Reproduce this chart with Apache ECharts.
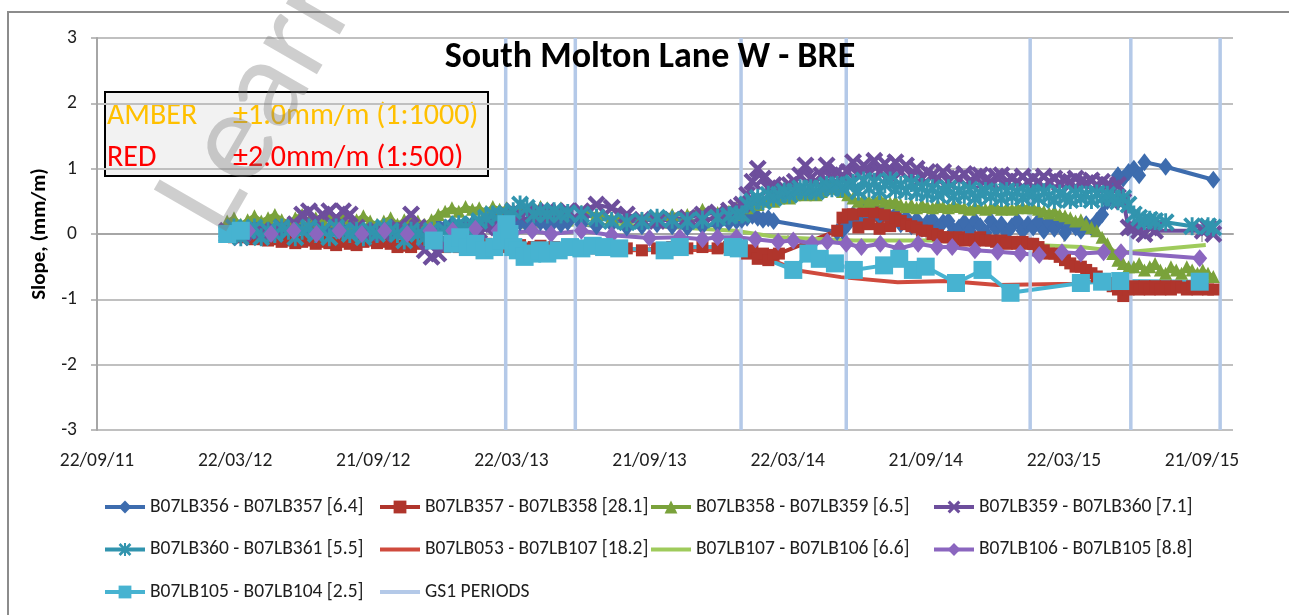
<!DOCTYPE html>
<html>
<head>
<meta charset="utf-8">
<title>South Molton Lane W - BRE</title>
<script src="https://cdn.jsdelivr.net/npm/echarts@6/dist/echarts.min.js"></script>
<style>
  html, body { margin: 0; padding: 0; background: #ffffff; }
  #chart { width: 1289px; height: 615px; }
</style>
</head>
<body>
<div id="chart"></div>
<script>
// x values are days counted from 22/09/11; ticks every half year (182.5 days)
const tickDays = [0, 182.5, 365, 547.5, 730, 912.5, 1095, 1277.5, 1460];
const tickLabels = ['22/09/11', '22/03/12', '21/09/12', '22/03/13', '21/09/13', '22/03/14', '21/09/14', '22/03/15', '21/09/15'];

// common survey days for the densely read gauges
const surveyDays = [
  172,181,190,199,208,217,226,235,244,253,262,271,280,289,298,307,316,325,334,343,352,361,370,379,388,397,406,415,424,433,442,451,460,469,478,487,496,505,514,523,532,
  541,550,559,568,577,586,595,604,613,622,
  640,660,680,700,720,740,760,780,800,820,835,845,
  852,859,866,873,880,887,894,901,908,915,922,929,936,943,950,957,964,971,978,985,992,
  999,1006,1013,1020,1027,1034,1041,1048,1055,1062,1069,1076,1083,1090,1097,1104,1111,1118,1125,1132,1139,1146,1153,1160,1167,1174,1181,1188,1195,1202,1209,1216,1223,1230,
  1237,1244,1251,1258,1265,1272,1279,1286,1293,1300,1307,1314,1321,1328,1335,1342,1349,1356,1363,
  1370,1377,1384,1391,1398,1405,1412,1419,1426,1433,1440,1447,1454,1461,1468,1475
];

const slope356_357 = [
  0.05,0.1,0.0,0.08,0.12,0.05,0.1,0.02,0.08,0.1,0.05,0.12,0.08,0.05,0.1,0.02,0.08,0.05,0.1,0.06,0.02,0.08,0.05,0.1,0.04,0.08,0.02,0.06,0.1,0.05,0.08,0.12,0.1,0.15,0.12,0.1,0.15,0.12,0.18,0.15,0.2,
  0.15,0.2,0.18,0.15,0.2,0.18,0.15,0.2,0.15,0.18,
  0.15,0.12,0.15,0.1,0.12,0.15,0.12,0.1,0.12,0.15,0.18,0.2,
  0.22,0.25,0.28,0.25,0.22,0.24,0.2,null,null,null,null,null,null,null,null,null,null,null,0.03,0.05,0.15,
  0.3,0.2,0.38,0.22,0.4,0.28,0.35,0.22,0.3,0.15,0.25,0.12,0.22,0.08,0.18,0.22,0.08,0.18,0.2,0.05,0.1,0.18,0.05,0.2,0.12,0.02,0.2,0.08,0.15,0.02,0.12,0.2,0.05,0.15,
  0.1,0.2,0.05,0.18,0.08,0.2,0.02,0.15,0.1,0.05,0.15,0.1,0.2,0.3,0.5,0.75,0.9,0.85,0.95,
  1.0,0.9,1.1,null,null,null,1.03,null,null,null,null,null,null,null,null,0.83
];
const slope357_358 = [
  -0.02,-0.05,0.0,-0.05,-0.08,-0.05,-0.1,-0.08,-0.12,-0.1,-0.14,-0.12,-0.1,-0.15,-0.12,-0.14,-0.17,-0.12,-0.15,-0.17,-0.12,-0.1,-0.14,-0.12,-0.15,-0.2,-0.18,-0.2,-0.15,-0.12,-0.1,-0.15,-0.2,-0.18,-0.2,-0.15,-0.18,-0.2,-0.15,-0.18,-0.2,
  -0.18,-0.2,-0.17,-0.22,-0.2,-0.18,-0.22,-0.2,-0.22,-0.2,
  -0.2,-0.22,-0.2,-0.22,-0.25,-0.22,-0.2,-0.22,-0.2,-0.22,-0.2,-0.2,
  -0.2,-0.3,-0.25,-0.38,-0.3,-0.4,-0.32,-0.3,null,null,null,null,null,null,null,null,null,null,0.05,0.25,0.3,
  0.3,0.1,0.35,0.15,0.33,0.08,0.3,0.12,0.25,0.2,0.15,0.12,0.1,0.05,0.05,0.0,-0.02,-0.05,-0.05,-0.08,-0.05,-0.1,-0.08,-0.1,-0.05,-0.1,-0.1,-0.12,-0.1,-0.15,-0.12,-0.15,-0.12,-0.15,
  -0.15,-0.2,-0.25,-0.3,-0.3,-0.35,-0.4,-0.45,-0.5,-0.5,-0.55,-0.6,-0.65,-0.7,-0.75,-0.8,-0.85,-0.95,-0.85,
  -0.8,-0.85,-0.8,-0.85,-0.8,-0.85,-0.8,-0.85,-0.8,-0.82,-0.85,-0.8,-0.85,-0.8,-0.85,-0.85
];
const slope358_359 = [
  0.2,0.25,0.15,0.22,0.28,0.2,0.25,0.3,0.22,0.18,0.25,0.3,0.2,0.25,0.22,0.28,0.2,0.25,0.15,0.22,0.28,0.2,0.15,0.2,0.25,0.15,0.22,0.25,0.2,0.15,0.22,0.3,0.35,0.4,0.35,0.42,0.38,0.4,0.35,0.42,0.38,
  0.4,0.38,0.42,0.4,0.38,0.42,0.4,0.38,0.4,0.35,
  0.35,0.3,0.25,0.22,0.25,0.28,0.3,0.3,0.38,0.33,0.35,0.4,
  0.3,0.4,0.5,0.45,0.5,0.55,0.5,0.55,0.6,0.55,0.6,0.65,0.6,0.65,0.6,0.65,0.7,0.75,0.7,0.65,0.6,
  0.55,0.5,0.55,0.5,0.52,0.55,0.5,0.48,0.5,0.45,0.42,0.45,0.4,0.45,0.42,0.4,0.45,0.42,0.4,0.45,0.42,0.4,0.38,0.42,0.4,0.38,0.4,0.42,0.38,0.4,0.38,0.4,0.42,0.4,
  0.4,0.38,0.35,0.32,0.35,0.3,0.28,0.25,0.2,0.22,0.15,0.1,0.05,-0.05,-0.15,-0.3,-0.4,-0.45,-0.5,
  -0.5,-0.45,-0.55,-0.5,-0.45,-0.55,-0.6,-0.5,-0.55,-0.6,-0.5,-0.55,-0.6,-0.55,-0.6,-0.65
];
const slope359_360 = [
  0.05,0.0,-0.05,0.05,0.0,0.05,0.0,0.05,0.1,0.05,0.15,0.3,0.35,0.2,0.3,0.35,0.25,0.35,0.3,0.1,0.05,0.0,0.05,0.0,0.05,0.1,0.05,0.3,0.1,-0.25,-0.35,-0.3,-0.1,0.0,0.05,0.05,0.1,0.05,0.1,0.15,0.2,
  0.3,0.35,0.3,0.35,0.32,0.3,0.35,0.33,0.3,0.35,
  0.35,0.45,0.4,0.3,0.22,0.2,0.22,0.25,0.3,0.33,0.36,0.4,
  0.45,0.6,0.8,1.0,0.85,0.7,0.75,0.65,0.7,0.75,0.8,0.9,1.05,0.85,0.8,0.9,1.05,0.85,0.95,0.9,0.95,
  1.1,0.9,1.05,0.92,1.12,0.95,1.08,0.9,1.1,0.95,1.05,0.9,1.0,0.85,0.95,0.9,0.85,0.95,0.8,0.9,0.85,0.92,0.8,0.88,0.9,0.82,0.8,0.88,0.9,0.8,0.85,0.8,0.88,0.8,
  0.85,0.8,0.88,0.8,0.85,0.78,0.82,0.8,0.85,0.8,0.78,0.82,0.75,0.8,0.75,0.7,0.75,0.5,0.1,
  0.1,0.05,0.0,0.1,0.05,null,null,null,null,null,null,null,null,0.05,0.1,0.0
];
const slope360_361 = [
  0.0,0.1,-0.05,0.05,0.1,-0.05,0.05,0.0,0.1,0.05,-0.05,0.05,0.1,0.0,0.05,-0.05,0.1,0.05,0.0,0.05,-0.05,0.05,0.0,0.1,0.05,0.0,-0.1,0.05,0.0,-0.05,0.05,0.0,0.05,0.1,0.15,0.1,0.15,0.2,0.25,0.3,0.3,
  0.3,0.35,0.45,0.4,0.3,0.35,0.3,0.35,0.3,0.32,
  0.3,0.25,0.2,0.18,0.2,0.25,0.22,0.2,0.22,0.25,0.28,0.3,
  0.3,0.45,0.5,0.55,0.5,0.6,0.55,0.6,0.65,0.6,0.65,0.7,0.65,0.7,0.65,0.7,0.75,0.7,0.75,0.7,0.75,
  0.78,0.65,0.82,0.7,0.8,0.66,0.76,0.82,0.68,0.75,0.66,0.78,0.64,0.72,0.62,0.7,0.6,0.66,0.7,0.58,0.66,0.6,0.68,0.55,0.62,0.66,0.58,0.64,0.55,0.66,0.58,0.64,0.56,0.62,
  0.62,0.55,0.64,0.58,0.52,0.62,0.56,0.52,0.62,0.55,0.6,0.52,0.62,0.55,0.6,0.55,0.5,0.55,0.45,
  0.3,0.25,0.2,0.22,0.2,null,0.18,null,null,null,null,0.12,null,null,0.12,0.1
];

// gauges read on their own dates
const days053_107 = [172,250,330,420,500,541,620,700,780,843,896,926,983,1058,1124,1190,1291,1340,1370,1480];
const slope053_107 = [-0.02,-0.05,-0.08,-0.12,-0.15,-0.2,-0.25,-0.25,-0.24,-0.25,-0.42,-0.56,-0.66,-0.74,-0.72,-0.78,-0.76,-0.7,-0.75,-0.82];

const days107_106 = [172,300,450,541,640,740,843,900,1000,1100,1200,1300,1360,1465];
const slope107_106 = [0.1,0.1,0.12,0.1,0.15,0.12,0.05,-0.05,-0.1,-0.1,-0.15,-0.2,-0.28,-0.17];

const days106_105 = [172,200,230,260,290,320,350,380,410,440,470,500,530,550,575,600,640,680,730,770,800,820,845,870,900,920,945,965,990,1010,1035,1060,1085,1110,1130,1160,1190,1220,1245,1275,1300,1330,1353,1457];
const slope106_105 = [0.0,0.05,0.0,0.05,0.0,0.05,0.0,0.05,0.0,0.05,0.05,0.08,0.05,0.02,0.05,0.0,0.05,-0.02,-0.06,-0.05,-0.08,-0.05,-0.05,-0.08,-0.12,-0.1,-0.14,-0.12,-0.15,-0.2,-0.15,-0.22,-0.15,-0.2,-0.2,-0.25,-0.27,-0.3,-0.32,-0.28,-0.3,-0.28,-0.28,-0.37];

const days105_104 = [172,190,445,470,480,490,500,512,525,535,541,545,550,556,565,575,585,595,610,625,640,655,670,690,750,770,840,848,920,940,955,975,1000,1040,1060,1078,1095,1135,1170,1207,1300,1328,1352,1457];
const slope105_104 = [0.0,0.05,-0.1,-0.15,-0.05,-0.2,-0.15,-0.25,-0.2,-0.1,0.15,0.0,-0.2,-0.25,-0.35,-0.3,-0.25,-0.3,-0.25,-0.2,-0.22,-0.18,-0.2,-0.22,-0.25,-0.2,-0.2,-0.22,-0.55,-0.3,-0.38,-0.45,-0.55,-0.48,-0.38,-0.55,-0.5,-0.75,-0.55,-0.9,-0.75,-0.73,-0.72,-0.73];

// GS1 survey periods, drawn as full-height vertical lines
const gs1Days = [540, 632, 851, 990, 1233, 1366, 1484];

const seriesNames = [
  'B07LB356 - B07LB357 [6.4]',
  'B07LB357 - B07LB358 [28.1]',
  'B07LB358 - B07LB359 [6.5]',
  'B07LB359 - B07LB360 [7.1]',
  'B07LB360 - B07LB361 [5.5]',
  'B07LB053 - B07LB107 [18.2]',
  'B07LB107 - B07LB106 [6.6]',
  'B07LB106 - B07LB105 [8.8]',
  'B07LB105 - B07LB104 [2.5]',
  'GS1 PERIODS'
];

const FONT = 'Carlito, Calibri, Lato, sans-serif';

// cross and six-armed asterisk markers built from filled bars
const CROSS = 'path://M0,1.7L1.7,0L10,8.3L8.3,10Z M10,1.7L1.7,10L0,8.3L8.3,0Z';
const STAR = 'path://M0,1.5L1.5,0L10,8.5L8.5,10Z M10,1.5L1.5,10L0,8.5L8.5,0Z M4.2,0L5.8,0L5.8,10L4.2,10Z';
// plain line legend icon: a 4px bar centred in a 40x16 box
const LINE_ICON = 'path://M0,0L0.01,0L0.01,0.01L0,0.01Z M0,6L40,6L40,10L0,10Z M39.99,15.99L40,15.99L40,16L39.99,16Z';

function pairs(xs, ys) {
  return xs.map((x, i) => [x, ys[i] === null ? '-' : ys[i]]);
}

function lineSeries(name, data, color, symbol, size, extra) {
  return Object.assign({
    name: name,
    type: 'line',
    data: data,
    symbol: symbol,
    symbolSize: size,
    showSymbol: symbol !== 'none',
    showAllSymbol: true,
    connectNulls: true,
    lineStyle: { width: 4, color: color },
    itemStyle: { color: color, borderWidth: 0 },
    emphasis: { disabled: true },
    animation: false
  }, extra || {});
}

const gs1Data = [];
gs1Days.forEach(d => { gs1Data.push([d, -3], [d, 3], [d, '-']); });

const series = [
  lineSeries(seriesNames[0], pairs(surveyDays, slope356_357), '#3d6cae', 'diamond', [14, 18]),
  lineSeries(seriesNames[1], pairs(surveyDays, slope357_358), '#b0352c', 'rect', 12),
  lineSeries(seriesNames[2], pairs(surveyDays, slope358_359), '#7aa23b', 'triangle', 13),
  lineSeries(seriesNames[3], pairs(surveyDays, slope359_360), '#6d4e9c', CROSS, 18),
  lineSeries(seriesNames[4], pairs(surveyDays, slope360_361), '#3194ae', STAR, 18),
  lineSeries(seriesNames[5], pairs(days053_107, slope053_107), '#cf4a3d', 'none', 0),
  lineSeries(seriesNames[6], pairs(days107_106, slope107_106), '#9fcb5c', 'none', 0),
  lineSeries(seriesNames[7], pairs(days106_105, slope106_105), '#8b66bf', 'diamond', [15, 18]),
  lineSeries(seriesNames[8], pairs(days105_104, slope105_104), '#47b3d1', 'rect', 18),
  lineSeries(seriesNames[9], gs1Data, '#b4c9e8', 'none', 0, { connectNulls: false, lineStyle: { width: 3.5, color: '#b4c9e8' } })
];

const legendText = { fontFamily: FONT, fontSize: 19.5, color: '#1e1e1e', lineHeight: 20 };
function legendColumn(names, left) {
  return {
    data: names.map(n => (n === seriesNames[5] || n === seriesNames[6] || n === seriesNames[9]) ? { name: n, icon: LINE_ICON } : n),
    orient: 'vertical', left: left, top: 497,
    itemWidth: 40, itemHeight: 16, itemGap: 22.5,
    lineStyle: { width: 4 },
    textStyle: legendText, selectedMode: false, padding: 0
  };
}

const chart = echarts.init(document.getElementById('chart'), null, { renderer: 'canvas' });
chart.setOption({
  animation: false,
  backgroundColor: '#ffffff',
  grid: { left: 97, right: 56, top: 38, bottom: 185, containLabel: false },
  xAxis: {
    type: 'value', min: 0, max: 1501, interval: 182.5,
    axisLine: { show: true, lineStyle: { color: '#a6a6a6', width: 2 } },
    axisTick: { show: true, length: 8, customValues: tickDays, lineStyle: { color: '#a6a6a6', width: 1.5 } },
    axisLabel: {
      customValues: tickDays, margin: 21,
      fontFamily: FONT, fontSize: 19.5, color: '#1e1e1e',
      formatter: v => tickLabels[tickDays.indexOf(v)] || ''
    },
    splitLine: { show: false }
  },
  yAxis: {
    type: 'value', min: -3, max: 3, interval: 1,
    name: 'Slope, (mm/m)', nameLocation: 'middle', nameRotate: 90, nameGap: 38,
    nameTextStyle: { fontFamily: FONT, fontSize: 21, fontWeight: 'bold', color: '#000000' },
    axisLine: { show: true, lineStyle: { color: '#a6a6a6', width: 2 } },
    axisTick: { show: true, length: 6, lineStyle: { color: '#a6a6a6', width: 1.5 } },
    axisLabel: { margin: 20, fontFamily: FONT, fontSize: 19.5, color: '#1e1e1e' },
    splitLine: { show: true, lineStyle: { color: '#c0c0c0', width: 2 } }
  },
  legend: [
    legendColumn([seriesNames[0], seriesNames[4], seriesNames[8]], 103),
    legendColumn([seriesNames[1], seriesNames[5], seriesNames[9]], 378),
    legendColumn([seriesNames[2], seriesNames[6]], 649),
    legendColumn([seriesNames[3], seriesNames[7]], 932)
  ],
  series: series,
  graphic: [
    {
      type: 'rect', z: -10, silent: true,
      shape: { x: 8, y: 12, width: 1400, height: 700 },
      style: { fill: 'none', stroke: '#8c8c8c', lineWidth: 2 }
    },
    {
      type: 'text', z: 60, silent: true, x: 650, y: 58,
      style: { text: 'South Molton Lane W - BRE', font: 'bold 36px ' + FONT, fill: '#000000', align: 'center', verticalAlign: 'middle' }
    },
    {
      type: 'group', z: 60, silent: true,
      children: [
        { type: 'rect', shape: { x: 105, y: 92, width: 383, height: 84 }, style: { fill: '#f2f2f2', stroke: '#000000', lineWidth: 2 } },
        { type: 'text', style: { x: 107, y: 116, text: 'AMBER', font: '30px ' + FONT, fill: '#ffc000', verticalAlign: 'middle' } },
        { type: 'text', style: { x: 233, y: 116, text: '±1.0mm/m (1:1000)', font: '30px ' + FONT, fill: '#ffc000', verticalAlign: 'middle' } },
        { type: 'text', style: { x: 107, y: 158, text: 'RED', font: '30px ' + FONT, fill: '#ff0000', verticalAlign: 'middle' } },
        { type: 'text', style: { x: 233, y: 158, text: '±2.0mm/m (1:500)', font: '30px ' + FONT, fill: '#ff0000', verticalAlign: 'middle' } }
      ]
    },
    {
      type: 'text', z: 80, silent: true, x: 250, y: 255, rotation: Math.PI / 3,
      style: { text: 'Learning', font: '130px ' + FONT, fill: 'rgba(120,120,120,0.36)', align: 'left', verticalAlign: 'bottom' }
    }
  ]
});
</script>
</body>
</html>
